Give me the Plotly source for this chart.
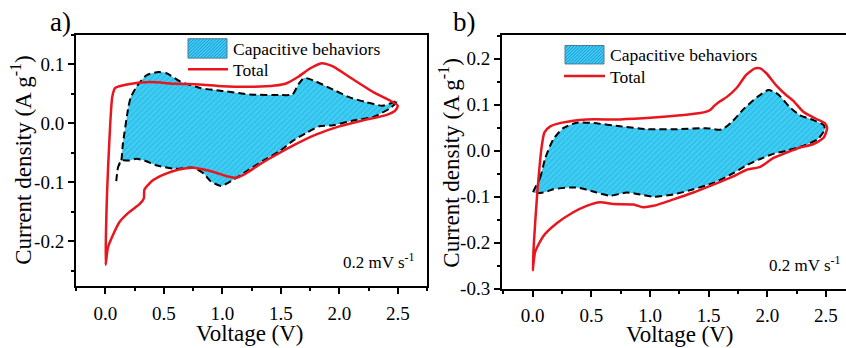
import plotly.graph_objects as go

W, H = 846, 348

# ---- panel a) : cyclic voltammogram and capacitive contribution ----
a_total_v = [0.003, 0.015, 0.035, 0.06, 0.085, 0.185, 0.38, 0.6, 0.8, 1.0, 1.25, 1.45, 1.55,
             1.65, 1.75, 1.85, 1.9, 1.95, 2.1, 2.3, 2.45, 2.5, 2.48, 2.4, 2.2, 2.0, 1.8, 1.6,
             1.4, 1.3, 1.2, 1.12, 1.03, 0.92, 0.81, 0.75, 0.63, 0.52, 0.41, 0.335, 0.33,
             0.293, 0.207, 0.122, 0.066, 0.023, 0.003]
a_total_i = [-0.24, -0.12, -0.03, 0.045, 0.06, 0.066, 0.07, 0.067, 0.066, 0.063, 0.062, 0.064,
             0.068, 0.079, 0.093, 0.102, 0.1, 0.096, 0.077, 0.052, 0.037, 0.03, 0.022, 0.014,
             0.005, -0.005, -0.019, -0.038, -0.06, -0.072, -0.085, -0.092, -0.089, -0.082,
             -0.077, -0.075, -0.078, -0.085, -0.096, -0.112, -0.127, -0.137, -0.15, -0.167,
             -0.189, -0.21, -0.24]

a_cap_v = [0.094, 0.11, 0.137, 0.15, 0.2, 0.22, 0.27, 0.355, 0.455, 0.525, 0.64, 0.81, 1.0, 1.24,
           1.49, 1.6, 1.65, 1.7, 1.8, 1.95, 2.09, 2.23, 2.37, 2.5, 2.43, 2.29, 2.12, 1.95, 1.83,
           1.72, 1.6, 1.49, 1.35, 1.2, 1.09, 0.99, 0.9, 0.84, 0.75, 0.6, 0.435, 0.335, 0.265,
           0.207, 0.137, 0.11]
a_cap_i = [-0.098, -0.074, -0.063, -0.036, 0.03, 0.045, 0.063, 0.082, 0.087, 0.085, 0.071, 0.06,
           0.055, 0.049, 0.048, 0.049, 0.066, 0.077, 0.071, 0.057, 0.044, 0.036, 0.03, 0.038,
           0.025, 0.011, 0.005, -0.003, -0.005, -0.016, -0.03, -0.047, -0.063, -0.082, -0.096,
           -0.106, -0.098, -0.085, -0.075, -0.077, -0.071, -0.063, -0.06, -0.063, -0.063, -0.074]

# ---- panel b) ----
b_total_v = [0.0, 0.01, 0.04, 0.077, 0.1, 0.15, 0.25, 0.46, 0.745, 1.03, 1.26, 1.43, 1.51,
             1.55, 1.6, 1.65, 1.74, 1.82, 1.895, 1.94, 1.99, 2.08, 2.165, 2.22, 2.31, 2.41, 2.49,
             2.51, 2.48, 2.39, 2.28, 2.165, 2.05, 1.94, 1.82, 1.71, 1.54, 1.37, 1.2, 1.03, 0.94,
             0.86, 0.687, 0.574, 0.46, 0.346, 0.205, 0.09, 0.02, 0.0]
b_total_i = [-0.26, -0.2, -0.088, 0.01, 0.04, 0.053, 0.061, 0.068, 0.068, 0.072, 0.077, 0.082,
             0.088, 0.098, 0.108, 0.116, 0.137, 0.165, 0.179, 0.179, 0.169, 0.141, 0.12, 0.109,
             0.084, 0.07, 0.06, 0.049, 0.028, 0.014, 0.007, -0.004, -0.016, -0.035, -0.042,
             -0.056, -0.074, -0.091, -0.106, -0.12, -0.123, -0.117, -0.116, -0.112, -0.12,
             -0.134, -0.158, -0.186, -0.221, -0.26]

b_cap_v = [0.005, 0.062, 0.105, 0.147, 0.176, 0.26, 0.375, 0.52, 0.745, 0.97, 1.26, 1.48, 1.61,
           1.7, 1.8, 1.91, 2.01, 2.09, 2.19, 2.28, 2.39, 2.48, 2.49, 2.43, 2.31, 2.165, 2.05,
           1.94, 1.82, 1.71, 1.54, 1.37, 1.2, 1.03, 0.89, 0.8, 0.66, 0.545, 0.4, 0.318, 0.176,
           0.09, 0.005]
b_cap_i = [-0.091, -0.06, -0.018, 0.01, 0.025, 0.049, 0.061, 0.06, 0.053, 0.047, 0.047, 0.049,
           0.046, 0.063, 0.091, 0.116, 0.132, 0.123, 0.095, 0.077, 0.067, 0.056, 0.046, 0.025,
           0.011, 0.0, -0.007, -0.018, -0.032, -0.049, -0.07, -0.084, -0.095, -0.1, -0.094,
           -0.091, -0.098, -0.091, -0.081, -0.08, -0.084, -0.091, -0.091]

# ---- tick labels (plain hyphen minus) ----
x_tickvals = [0.0, 0.5, 1.0, 1.5, 2.0, 2.5]
x_ticktext = ["0.0", "0.5", "1.0", "1.5", "2.0", "2.5"]
a_y_tickvals = [-0.2, -0.1, 0.0, 0.1]
a_y_ticktext = ["-0.2", "-0.1", "0.0", "0.1"]
b_y_tickvals = [-0.3, -0.2, -0.1, 0.0, 0.1, 0.2]
b_y_ticktext = ["-0.3", "-0.2", "-0.1", "0.0", "0.1", "0.2"]

legend_labels = ["Capacitive behaviors", "Total"]
rate_label = "0.2 mV s<sup>-1</sup>"
x_title = "Voltage (V)"
y_title = "Current density (A g<sup>-1</sup>)"

FONT = "Liberation Serif, Times New Roman, serif"
RED = "#E8161E"
CYAN = "#3CCFF2"
HATCH = "#2392D6"


def px(x):
    return x / W


def py(y):
    return 1 - y / H


fig = go.Figure()

for v, i, xa, ya in [(a_cap_v, a_cap_i, "x", "y"), (b_cap_v, b_cap_i, "x2", "y2")]:
    fig.add_trace(go.Scatter(
        x=v, y=i, xaxis=xa, yaxis=ya, mode="lines", fill="toself",
        fillcolor=CYAN,
        fillpattern=dict(shape="/", bgcolor=CYAN, fgcolor=HATCH, size=4, solidity=0.25),
        line=dict(color="black", width=2, dash="7px,4px", shape="spline", smoothing=0.6),
        showlegend=False, hoverinfo="skip"))

for v, i, xa, ya in [(a_total_v, a_total_i, "x", "y"), (b_total_v, b_total_i, "x2", "y2")]:
    fig.add_trace(go.Scatter(
        x=v, y=i, xaxis=xa, yaxis=ya, mode="lines",
        line=dict(color=RED, width=2.5, shape="spline", smoothing=0.6),
        showlegend=False, hoverinfo="skip"))

axis_common = dict(
    showgrid=False, zeroline=False, showline=True, linecolor="black", linewidth=2,
    ticks="outside", ticklen=6, tickwidth=2, tickcolor="black",
    tickfont=dict(family=FONT, size=19, color="black"),
)
minor_x = dict(ticks="outside", ticklen=3, tickwidth=1.5, tickcolor="black", dtick=0.25, tick0=0)
minor_y = dict(ticks="outside", ticklen=3, tickwidth=1.5, tickcolor="black", dtick=0.05, tick0=0)

fig.update_layout(
    width=W, height=H,
    margin=dict(l=0, r=0, t=0, b=0),
    paper_bgcolor="white", plot_bgcolor="white",
    font=dict(family=FONT, color="black"),
    xaxis=dict(domain=[px(76), px(427)], range=[-0.25, 2.75], anchor="y", mirror=True,
               tickvals=x_tickvals, ticktext=x_ticktext, minor=minor_x,
               ticklabelstandoff=4, **axis_common),
    yaxis=dict(domain=[py(295), py(36)], range=[-0.275, 0.15], anchor="x", mirror=True,
               tickvals=a_y_tickvals, ticktext=a_y_ticktext, minor=minor_y, **axis_common),
    xaxis2=dict(domain=[px(502), 1.0], range=[-0.262, 2.671], anchor="y2", mirror=True,
                tickvals=x_tickvals, ticktext=x_ticktext, minor=minor_x,
                ticklabelstandoff=3, **axis_common),
    yaxis2=dict(domain=[py(298), py(36)], range=[-0.3, 0.252], anchor="x2", mirror=False,
                tickvals=b_y_tickvals, ticktext=b_y_ticktext, minor=minor_y, **axis_common),
)

annotations = []
shapes = []


def text(x, y, s, size, xanchor="center", angle=0):
    annotations.append(dict(
        x=px(x), y=py(y), xref="paper", yref="paper", text=s, showarrow=False,
        xanchor=xanchor, yanchor="middle", textangle=angle,
        font=dict(family=FONT, size=size, color="black")))


def hatch_patch(x0, y0, x1, y1, step=3.2):
    shapes.append(dict(type="rect", xref="paper", yref="paper",
                       x0=px(x0), x1=px(x1), y0=py(y1), y1=py(y0),
                       fillcolor=CYAN, line=dict(color="#557788", width=1)))
    segs = []
    c = x0 + y0 + step
    while c < x1 + y1:
        xa = max(x0, c - y1)
        xb = min(x1, c - y0)
        segs.append(f"M{px(xa)},{py(c - xa)}L{px(xb)},{py(c - xb)}")
        c += step
    shapes.append(dict(type="path", xref="paper", yref="paper", path="".join(segs),
                       line=dict(color=HATCH, width=1)))


# panel a) decorations
text(60, 23, "a)", 27)
text(250, 344, x_title, 23)
text(22, 165, y_title, 23, angle=-90)
text(379, 270, rate_label, 17)
hatch_patch(188, 40, 227, 60)
shapes.append(dict(type="line", xref="paper", yref="paper", x0=px(188), x1=px(228),
                   y0=py(71.5), y1=py(71.5), line=dict(color=RED, width=2.5)))
text(231, 50.5, legend_labels[0], 17.5, xanchor="left")
text(231, 72, legend_labels[1], 17.5, xanchor="left")

# panel b) decorations
text(464, 23, "b)", 27)
text(680, 345, x_title, 23)
text(450, 168, y_title, 23, angle=-90)
text(805, 273, rate_label, 17)
hatch_patch(565, 47, 604, 66)
shapes.append(dict(type="line", xref="paper", yref="paper", x0=px(564), x1=px(605),
                   y0=py(78.5), y1=py(78.5), line=dict(color=RED, width=2.5)))
text(608, 56.5, legend_labels[0], 17.5, xanchor="left")
text(608, 79, legend_labels[1], 17.5, xanchor="left")

fig.update_layout(annotations=annotations, shapes=shapes)

fig.write_html("out.html")
